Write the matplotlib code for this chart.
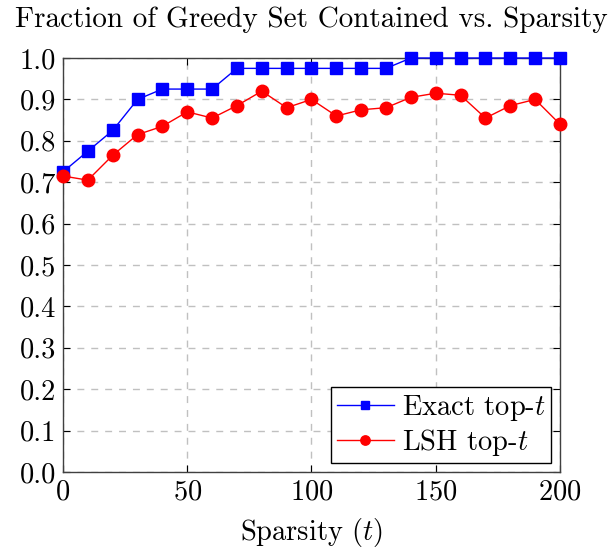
import numpy as np
import matplotlib.pyplot as plt

plt.rcParams['font.family'] = 'serif'
plt.rcParams['font.serif'] = ['cmr10']
plt.rcParams['mathtext.fontset'] = 'cm'
plt.rcParams['axes.formatter.use_mathtext'] = True

sparsity = [0, 10, 20, 30, 40, 50, 60, 70, 80, 90, 100,
            110, 120, 130, 140, 150, 160, 170, 180, 190, 200]

exact_top_t = [0.725, 0.775, 0.825, 0.9, 0.925, 0.925, 0.925, 0.975, 0.975, 0.975, 0.975,
               0.975, 0.975, 0.975, 1.0, 1.0, 1.0, 1.0, 1.0, 1.0, 1.0]

lsh_top_t = [0.715, 0.705, 0.765, 0.815, 0.835, 0.87, 0.855, 0.885, 0.92, 0.88, 0.9,
             0.86, 0.875, 0.88, 0.905, 0.915, 0.91, 0.855, 0.885, 0.9, 0.84]

fig = plt.figure(figsize=(6.15, 5.5), dpi=100)
ax = fig.add_axes([0.1024, 0.1418, 0.8082, 0.7527])

ax.plot(sparsity, exact_top_t, color='blue', marker='s', markersize=8,
        linewidth=1, label=r'Exact top-$t$', zorder=3, clip_on=False)
ax.plot(sparsity, lsh_top_t, color='red', marker='o', markersize=9,
        linewidth=1, label=r'LSH top-$t$', zorder=3, clip_on=False)

ax.set_xlim(0, 200)
ax.set_ylim(0, 1.0)
ax.set_xticks([0, 50, 100, 150, 200])
ax.set_yticks(np.arange(0, 1.01, 0.1))
ax.set_yticklabels(['%.1f' % v for v in np.arange(0, 1.01, 0.1)])

ax.grid(True, color='#c0c0c0', linestyle=(0, (5, 5)), linewidth=1)
ax.tick_params(direction='in', top=True, right=True, labelsize=20.5, length=5, pad=5)
for s in ax.spines.values():
    s.set_linewidth(1)
    s.set_color('#404040')

ax.set_title('Fraction of Greedy Set Contained vs. Sparsity', fontsize=21, pad=22)
ax.set_xlabel(r'Sparsity ($t$)', fontsize=20.5, labelpad=8)

leg = ax.legend(loc='lower right', fontsize=20.5, fancybox=False, edgecolor='black',
                framealpha=1, handlelength=2.0, borderaxespad=0.3, handletextpad=0.3,
                borderpad=0.2, labelspacing=0.15, markerscale=0.75)
leg.get_frame().set_linewidth(1)

fig.savefig('out.png', dpi=100)
